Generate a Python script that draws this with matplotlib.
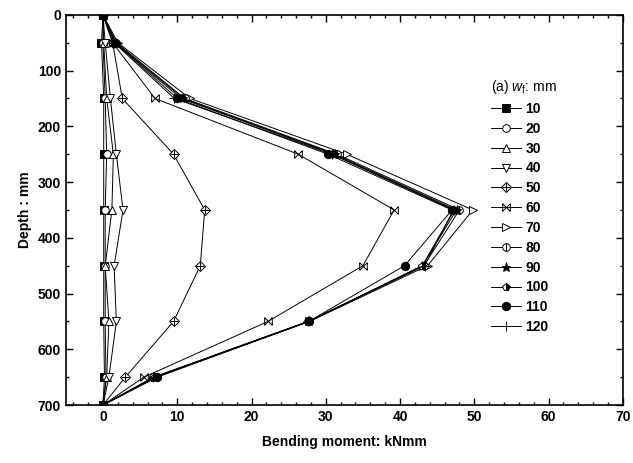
import numpy as np
import matplotlib.pyplot as plt
from matplotlib.ticker import MultipleLocator
from matplotlib.path import Path

plt.rcParams['font.family'] = ['Liberation Sans', 'DejaVu Sans']
plt.rcParams['mathtext.fontset'] = 'custom'
plt.rcParams['mathtext.it'] = 'Liberation Sans:italic'
plt.rcParams['mathtext.rm'] = 'Liberation Sans'

# Profundidades de medida (mm)
depth = [0, 50, 150, 250, 350, 450, 550, 650, 700]

# Momento flector (kNmm) para cada w_f
m10 = [0, -0.2, 0.1, 0.1, 0.1, 0.1, 0.1, 0.2, 0]
m20 = [0, 0.0, 0.3, 0.5, 0.3, 0.3, 0.3, 0.4, 0]
m30 = [0, 0.1, 0.5, 1.4, 1.2, 0.3, 0.8, 0.5, 0]
m40 = [0, 0.3, 1.0, 1.8, 2.7, 1.5, 1.8, 0.8, 0]
m50 = [0, 1.3, 2.6, 9.5, 13.7, 13.1, 9.5, 3.0, 0]
m60 = [0, 1.3, 7.0, 26.3, 39.2, 35.0, 22.2, 5.5, 0]
m70 = [0, 2.0, 11.7, 32.8, 49.8, 43.7, 27.8, 7.0, 0]
m80 = [0, 1.8, 11.0, 31.5, 48.0, 43.2, 27.6, 6.8, 0]
m90 = [0, 1.7, 10.8, 31.2, 47.6, 43.0, 27.7, 6.9, 0]
m100 = [0, 1.6, 10.5, 31.0, 47.3, 43.0, 27.7, 7.0, 0]
m110 = [0, 1.6, 10.0, 30.3, 47.0, 40.6, 27.7, 7.3, 0]
m120 = [0, 1.5, 9.6, 30.8, 47.2, 43.3, 27.6, 6.8, 0]

labels = ['10', '20', '30', '40', '50', '60', '70', '80', '90', '100', '110', '120']
series = [m10, m20, m30, m40, m50, m60, m70, m80, m90, m100, m110, m120]

# marcador X con lados verticales
xbox = Path([(-1, -1), (1, 1), (-1, 1), (1, -1), (-1, -1), (-1, 1), (1, -1), (1, 1)],
            [Path.MOVETO, Path.LINETO] * 4)

fig = plt.figure(figsize=(6.33, 4.63), dpi=100)
ax = fig.add_axes([0.104, 0.125, 0.88, 0.843])

lw = 0.7
ms = 5.5
base = dict(color='black', lw=lw, ms=ms, mec='black', mew=0.7)
estilos = [
    [dict(marker='s', mfc='black')],
    [dict(marker='o', mfc='white')],
    [dict(marker='^', mfc='white')],
    [dict(marker='v', mfc='white')],
    [dict(marker='D', mfc='white', ms=5), dict(marker='+', ms=6)],
    [dict(marker=xbox, mfc='none', ms=5.5, mew=0.7)],
    [dict(marker='>', mfc='white')],
    [dict(marker='o', mfc='white'), dict(marker='|', ms=5.5)],
    [dict(marker='*', mfc='black', ms=6.5)],
    [dict(marker='p', mfc='black', fillstyle='right', markerfacecoloralt='white')],
    [dict(marker='o', mfc='black', ms=6)],
    [dict(marker='+', ms=7)],
]

handles = []
for vals, st in zip(series, estilos):
    hs = []
    for i, s in enumerate(st):
        kw = dict(base)
        kw.update(s)
        if i > 0:
            kw['ls'] = 'none'
        h, = ax.plot(vals, depth, **kw)
        hs.append(h)
    handles.append(tuple(hs))

ax.set_xlim(-5, 70)
ax.set_ylim(700, 0)
ax.xaxis.set_major_locator(MultipleLocator(10))
ax.xaxis.set_minor_locator(MultipleLocator(2))
ax.yaxis.set_major_locator(MultipleLocator(100))
ax.yaxis.set_minor_locator(MultipleLocator(50))
ax.tick_params(which='both', direction='in', top=True, right=True, width=1)
ax.tick_params(which='major', length=5, labelsize=10)
ax.tick_params(which='minor', length=2.5)
for t in ax.get_xticklabels() + ax.get_yticklabels():
    t.set_fontweight('bold')
for sp in ax.spines.values():
    sp.set_linewidth(1.2)

ax.set_xlabel('Bending moment: kNmm', fontsize=10, fontweight='bold', labelpad=8)
ax.set_ylabel('Depth : mm', fontsize=10, fontweight='bold', labelpad=4)

leg = ax.legend(handles, labels, loc='upper left', bbox_to_anchor=(0.74, 0.87),
                frameon=False, handlelength=2.2, handletextpad=0.3,
                labelspacing=0.42, prop={'weight': 'bold', 'size': 10},
                title='(a) $w_\\mathrm{f}$: mm', title_fontsize=10)
leg._legend_box.align = 'left'

fig.savefig('out.png', dpi=100)
